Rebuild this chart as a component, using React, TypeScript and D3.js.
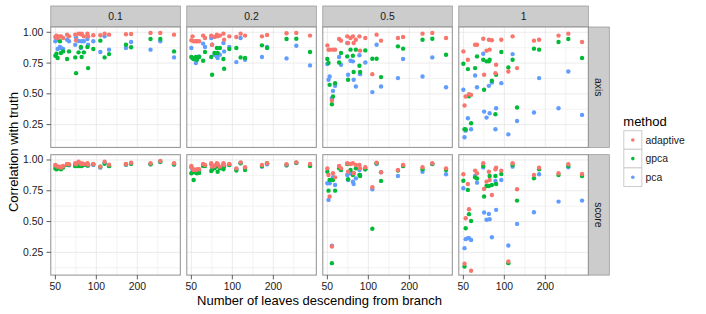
import React from 'react';
import * as d3 from 'd3';

const leaves = [50, 51, 52, 54, 55, 57, 61, 63, 70, 71, 74, 77, 78, 81, 86, 87, 95, 107, 115, 124, 165, 180, 250, 295, 372];
const noiseLevels = ['0.1', '0.2', '0.5', '1'];
const measures = ['axis', 'score'];
const methods = ['adaptive', 'gpca', 'pca'];
const methodColors = ['#F8766D', '#00BA38', '#619CFF'];
const xTicks = [50, 100, 200];
const xMinor = [70.71, 141.42, 282.84];
const yTicks = [0.25, 0.5, 0.75, 1.0];
const yTickLabels = ['0.25', '0.50', '0.75', '1.00'];
const yMinor = [0.125, 0.375, 0.625, 0.875];

// axis, noise 0.1
const axis01Adaptive = [0.962, 0.973, 0.954, 0.967, 0.967, 0.954, 0.981, 0.967, 0.981, 0.935, 0.989, 0.984, 0.989, 0.967, 0.989, 0.967, 0.976, 0.976, 0.989, 0.981, 0.984, 0.986, 0.995, 0.995, 0.981];
const axis01Gpca = [0.810, 0.826, 0.791, 0.927, 0.832, 0.845, 0.783, 0.845, 0.796, 0.668, 0.837, 0.880, 0.799, 0.837, 0.880, 0.709, 0.864, 0.932, 0.796, 0.823, 0.899, 0.878, 0.946, 0.946, 0.845];
const axis01Pca = [0.927, 0.940, 0.864, 0.880, 0.872, 0.864, 0.940, 0.927, 0.899, 0.960, 0.929, 0.872, 0.927, 0.927, 0.946, 0.899, 0.927, 0.840, 0.967, 0.859, 0.872, 0.921, 0.859, 0.927, 0.796];
// score, noise 0.1
const score01Adaptive = [0.959, 0.951, 0.946, 0.946, 0.938, 0.951, 0.968, 0.965, 0.973, 0.965, 0.986, 0.968, 0.973, 0.968, 0.973, 0.962, 0.968, 0.946, 0.986, 0.962, 0.968, 0.978, 0.973, 0.992, 0.973];
const score01Gpca = [0.930, 0.925, 0.930, 0.935, 0.925, 0.940, 0.960, 0.960, 0.950, 0.955, 0.950, 0.955, 0.950, 0.960, 0.955, 0.960, 0.965, 0.945, 0.970, 0.950, 0.965, 0.970, 0.965, 0.985, 0.965];
const score01Pca = [0.951, 0.943, 0.938, 0.938, 0.930, 0.943, 0.960, 0.957, 0.965, 0.957, 0.978, 0.960, 0.965, 0.960, 0.965, 0.954, 0.960, 0.938, 0.978, 0.954, 0.960, 0.970, 0.965, 0.984, 0.962];
// axis, noise 0.2
const axis02Adaptive = [0.935, 0.967, 0.927, 0.927, 0.927, 0.927, 0.973, 0.954, 0.973, 0.899, 0.962, 0.981, 0.967, 0.973, 0.989, 0.940, 0.967, 0.962, 0.989, 0.973, 0.967, 0.978, 0.992, 0.995, 0.973];
const axis02Gpca = [0.799, 0.791, 0.783, 0.800, 0.777, 0.799, 0.769, 0.840, 0.799, 0.655, 0.832, 0.872, 0.832, 0.872, 0.783, 0.704, 0.864, 0.872, 0.796, 0.791, 0.894, 0.872, 0.946, 0.948, 0.840];
const axis02Pca = [0.872, 0.791, 0.783, 0.750, 0.799, 0.804, 0.908, 0.880, 0.954, 0.899, 0.818, 0.804, 0.791, 0.818, 0.913, 0.845, 0.880, 0.758, 0.954, 0.777, 0.799, 0.880, 0.788, 0.891, 0.731];
// score, noise 0.2
const score02Adaptive = [0.951, 0.932, 0.919, 0.919, 0.925, 0.925, 0.968, 0.959, 0.973, 0.946, 0.951, 0.973, 0.968, 0.946, 0.973, 0.959, 0.968, 0.932, 0.981, 0.941, 0.959, 0.973, 0.965, 0.981, 0.968];
const score02Gpca = [0.892, 0.900, 0.838, 0.897, 0.892, 0.895, 0.951, 0.951, 0.911, 0.920, 0.932, 0.951, 0.905, 0.932, 0.924, 0.946, 0.959, 0.914, 0.973, 0.919, 0.951, 0.973, 0.959, 0.978, 0.951];
const score02Pca = [0.940, 0.925, 0.910, 0.910, 0.915, 0.915, 0.960, 0.955, 0.965, 0.940, 0.945, 0.965, 0.960, 0.940, 0.965, 0.955, 0.960, 0.925, 0.975, 0.935, 0.945, 0.965, 0.955, 0.975, 0.955];
// axis, noise 0.5
const axis05Adaptive = [0.894, 0.859, 0.859, 0.446, 0.859, 0.859, 0.946, 0.932, 0.967, 0.913, 0.954, 0.967, 0.913, 0.940, 0.967, 0.851, 0.954, 0.660, 0.981, 0.932, 0.954, 0.962, 0.989, 0.995, 0.954];
const axis05Gpca = [0.783, 0.750, 0.573, 0.416, 0.478, 0.587, 0.755, 0.832, 0.804, 0.614, 0.859, 0.810, 0.677, 0.859, 0.728, 0.677, 0.853, 0.785, 0.785, 0.636, 0.886, 0.867, 0.940, 0.948, 0.818];
const axis05Pca = [0.742, 0.614, 0.641, 0.465, 0.524, 0.565, 0.799, 0.736, 0.913, 0.655, 0.769, 0.764, 0.614, 0.560, 0.813, 0.660, 0.755, 0.514, 0.899, 0.560, 0.628, 0.783, 0.641, 0.796, 0.554];
// score, noise 0.5
const score05Adaptive = [0.932, 0.878, 0.703, 0.297, 0.892, 0.859, 0.951, 0.932, 0.973, 0.905, 0.968, 0.973, 0.892, 0.959, 0.959, 0.932, 0.941, 0.778, 0.978, 0.900, 0.919, 0.959, 0.941, 0.973, 0.932];
const score05Gpca = [0.905, 0.751, 0.838, 0.162, 0.838, 0.751, 0.932, 0.919, 0.968, 0.843, 0.919, 0.878, 0.892, 0.932, 0.878, 0.870, 0.924, 0.441, 0.973, 0.830, 0.914, 0.951, 0.924, 0.968, 0.919];
const score05Pca = [0.811, 0.676, 0.811, 0.303, 0.860, 0.797, 0.946, 0.919, 0.878, 0.838, 0.892, 0.824, 0.805, 0.851, 0.919, 0.878, 0.924, 0.762, 0.968, 0.900, 0.870, 0.951, 0.905, 0.968, 0.884];
// axis, noise 1
const axis1Adaptive = [0.845, 0.405, 0.478, 0.777, 0.497, 0.492, 0.899, 0.899, 0.948, 0.655, 0.851, 0.940, 0.859, 0.935, 0.668, 0.736, 0.940, 0.682, 0.967, 0.709, 0.932, 0.940, 0.973, 0.989, 0.921];
const axis1Gpca = [0.745, 0.212, 0.210, 0.701, 0.480, 0.261, 0.709, 0.804, 0.777, 0.533, 0.764, 0.764, 0.777, 0.606, 0.334, 0.655, 0.840, 0.715, 0.777, 0.389, 0.867, 0.859, 0.921, 0.946, 0.791];
const axis1Pca = [0.533, 0.147, 0.201, 0.302, 0.490, 0.212, 0.649, 0.554, 0.826, 0.356, 0.307, 0.565, 0.342, 0.592, 0.212, 0.383, 0.587, 0.171, 0.823, 0.280, 0.348, 0.628, 0.383, 0.682, 0.329];
// score, noise 1
const score1Adaptive = [0.884, 0.157, 0.527, 0.805, 0.600, 0.100, 0.914, 0.892, 0.973, 0.765, 0.824, 0.905, 0.838, 0.716, 0.924, 0.938, 0.914, 0.176, 0.973, 0.762, 0.878, 0.938, 0.892, 0.965, 0.886];
const score1Gpca = [0.832, 0.135, 0.446, 0.757, 0.560, 0.505, 0.859, 0.850, 0.951, 0.703, 0.789, 0.789, 0.870, 0.797, 0.870, 0.805, 0.886, 0.162, 0.959, 0.670, 0.851, 0.924, 0.878, 0.951, 0.870];
const score1Pca = [0.770, 0.284, 0.357, 0.365, 0.365, 0.350, 0.870, 0.816, 0.940, 0.573, 0.514, 0.562, 0.519, 0.373, 0.830, 0.595, 0.838, 0.305, 0.946, 0.481, 0.576, 0.884, 0.662, 0.941, 0.670];

const panelSeries: number[][][][] = [
  [
    [axis01Adaptive, axis01Gpca, axis01Pca],
    [axis02Adaptive, axis02Gpca, axis02Pca],
    [axis05Adaptive, axis05Gpca, axis05Pca],
    [axis1Adaptive, axis1Gpca, axis1Pca],
  ],
  [
    [score01Adaptive, score01Gpca, score01Pca],
    [score02Adaptive, score02Gpca, score02Pca],
    [score05Adaptive, score05Gpca, score05Pca],
    [score1Adaptive, score1Gpca, score1Pca],
  ],
];

const W = 706;
const H = 314;
const panelLeft0 = 50.8;
const panelStep = 136;
const panelW = 129.5;
const rowTops = [27, 154.7];
const panelH = 120.4;
const stripTop = 6;
const stripH = 21;
const rightStripW = 21;
const FONT = '"Liberation Sans", Arial, Helvetica, sans-serif';

export default function App() {
  const x = d3.scaleLog().domain([46.3, 413.6]).range([0, panelW]);
  const y = d3.scaleLinear().domain([0.065, 1.043]).range([panelH, 0]);
  const lastRight = panelLeft0 + 3 * panelStep + panelW;
  const bottom = rowTops[1] + panelH;
  const plotCenterX = (panelLeft0 + lastRight) / 2;
  const plotCenterY = (rowTops[0] + bottom) / 2;
  const drawOrder = [2, 1, 0];

  return (
    <svg width={W} height={H} style={{ position: 'absolute', left: 0, top: 0, background: '#fff' }} fontFamily={FONT}>
      <rect x={0} y={0} width={W} height={H} fill="#fff" />
      {noiseLevels.map((lvl, c) => {
        const px = panelLeft0 + c * panelStep;
        return (
          <g key={'strip' + c}>
            <rect x={px} y={stripTop} width={panelW} height={stripH} fill="#CCCCCC" stroke="#8F8F8F" strokeWidth={0.7} />
            <text x={px + panelW / 2} y={stripTop + stripH / 2} textAnchor="middle" dominantBaseline="central" fontSize={10.4} fill="#1A1A1A">{lvl}</text>
          </g>
        );
      })}
      {measures.map((m, r) => (
        <g key={'rstrip' + r}>
          <rect x={lastRight} y={rowTops[r]} width={rightStripW} height={panelH} fill="#CCCCCC" stroke="#8F8F8F" strokeWidth={0.7} />
          <text transform={`translate(${lastRight + rightStripW / 2},${rowTops[r] + panelH / 2}) rotate(90)`} textAnchor="middle" dominantBaseline="central" fontSize={10.4} fill="#1A1A1A">{m}</text>
        </g>
      ))}
      {measures.map((m, r) =>
        noiseLevels.map((lvl, c) => {
          const px = panelLeft0 + c * panelStep;
          const py = rowTops[r];
          const data = panelSeries[r][c];
          return (
            <g key={`p${r}-${c}`} transform={`translate(${px},${py})`}>
              <rect x={0} y={0} width={panelW} height={panelH} fill="#fff" />
              {xMinor.map((v) => (
                <line key={'xm' + v} x1={x(v)} x2={x(v)} y1={0} y2={panelH} stroke="#F2F2F2" strokeWidth={0.9} />
              ))}
              {yMinor.map((v) => (
                <line key={'ym' + v} x1={0} x2={panelW} y1={y(v)} y2={y(v)} stroke="#F2F2F2" strokeWidth={0.9} />
              ))}
              {xTicks.map((v) => (
                <line key={'xg' + v} x1={x(v)} x2={x(v)} y1={0} y2={panelH} stroke="#E3E3E3" strokeWidth={0.7} />
              ))}
              {yTicks.map((v) => (
                <line key={'yg' + v} x1={0} x2={panelW} y1={y(v)} y2={y(v)} stroke="#E3E3E3" strokeWidth={0.7} />
              ))}
              {drawOrder.map((mi) =>
                data[mi].map((val, i) => (
                  <circle key={`pt${mi}-${i}`} cx={x(leaves[i])} cy={y(val)} r={2.2} fill={methodColors[mi]} />
                ))
              )}
              <rect x={0} y={0} width={panelW} height={panelH} fill="none" stroke="#8F8F8F" strokeWidth={1} />
            </g>
          );
        })
      )}
      {/* y axes */}
      {rowTops.map((py, r) => (
        <g key={'yax' + r}>
          {yTicks.map((v, i) => (
            <g key={'yt' + v}>
              <line x1={panelLeft0 - 4.3} x2={panelLeft0} y1={py + y(v)} y2={py + y(v)} stroke="#333" strokeWidth={0.8} />
              <text x={panelLeft0 - 7.5} y={py + y(v)} textAnchor="end" dominantBaseline="central" fontSize={10.4} fill="#1A1A1A">{yTickLabels[i]}</text>
            </g>
          ))}
        </g>
      ))}
      {/* x axes */}
      {noiseLevels.map((lvl, c) => {
        const px = panelLeft0 + c * panelStep;
        return (
          <g key={'xax' + c}>
            {xTicks.map((v) => (
              <g key={'xt' + v}>
                <line x1={px + x(v)} x2={px + x(v)} y1={bottom} y2={bottom + 4.3} stroke="#333" strokeWidth={0.8} />
                <text x={px + x(v)} y={bottom + 15} textAnchor="middle" fontSize={10.4} fill="#1A1A1A">{v}</text>
              </g>
            ))}
          </g>
        );
      })}
      <text x={plotCenterX} y={305} textAnchor="middle" fontSize={13} fill="#000">Number of leaves descending from branch</text>
      <text transform={`translate(17.5,${plotCenterY + 1}) rotate(-90)`} textAnchor="middle" fontSize={13} fill="#000">Correlation with truth</text>
      {/* legend */}
      <text x={623.3} y={125.5} fontSize={13} fill="#000">method</text>
      {methods.map((m, i) => {
        const ky = 130.7 + i * 18.6;
        return (
          <g key={'lg' + m}>
            <rect x={623.8} y={ky} width={18} height={18.6} fill="#fff" stroke="#CCCCCC" strokeWidth={1} />
            <circle cx={623.8 + 9} cy={ky + 9.3} r={1.8} fill={methodColors[i]} />
            <text x={645.5} y={ky + 9.3} dominantBaseline="central" fontSize={10.4} fill="#1A1A1A">{m}</text>
          </g>
        );
      })}
    </svg>
  );
}
